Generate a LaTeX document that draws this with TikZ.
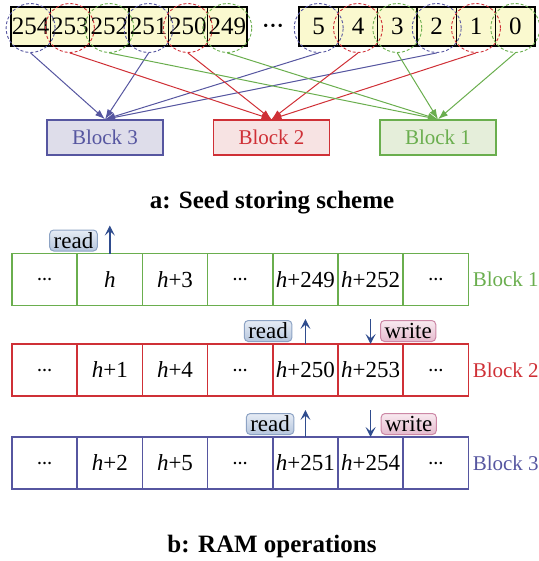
\documentclass[tikz,border=0pt]{standalone}
\usepackage{fontspec}
\setmainfont{Liberation Serif}
\usetikzlibrary{positioning,arrows.meta,calc}
\definecolor{blkblue}{HTML}{5656A0}
\definecolor{blkred}{HTML}{CF3036}
\definecolor{blkgreen}{HTML}{6AAE4E}
\definecolor{fillblue}{HTML}{DEDDEA}
\definecolor{fillred}{HTML}{F7E3E3}
\definecolor{fillgreen}{HTML}{E5EEDA}
\definecolor{seedfill}{HTML}{FAF9CF}
\definecolor{rwblue}{HTML}{2F4C8E}
\definecolor{readtop}{HTML}{E6ECF5}
\definecolor{readbot}{HTML}{B6C6DD}
\definecolor{readline}{HTML}{8DA3C4}
\definecolor{writetop}{HTML}{F8EAF0}
\definecolor{writebot}{HTML}{E5BACD}
\definecolor{writeline}{HTML}{CC88A6}
\newcommand{\hplus}[1]{\textit{h}+#1}
\newcommand{\ellip}{{\bfseries\fontsize{7.5}{7.5}\selectfont …}}

\tikzset{
  seedcell/.style={draw, line width=.7pt, fill=seedfill, minimum width=19.65pt,
    minimum height=19.5pt, inner sep=0pt, outer sep=0pt,
    font=\fontsize{12.5}{12.5}\selectfont},
  ring/.style={draw=#1, circle, minimum size=24.5pt, inner sep=0pt,
    line width=.45pt, dash pattern=on 1.5pt off 1pt},
  feed/.style={draw=#1, line width=.5pt, -{Latex[length=5pt,width=3.5pt]}},
  blockbox/.style={draw=blk#1, fill=fill#1, text=blk#1, line width=.7pt,
    minimum width=58pt, minimum height=17.5pt,
    font=\fontsize{10.5}{10.5}\selectfont},
  ramcell/.style={draw=#1, line width=.8pt, minimum width=32.6pt,
    minimum height=26pt, inner sep=0pt, outer sep=0pt,
    font=\fontsize{11.5}{11.5}\selectfont},
  ramlabel/.style={text=#1, inner sep=0pt, font=\fontsize{10.5}{10.5}\selectfont},
  readbox/.style={draw=readline, top color=readtop, bottom color=readbot,
    rounded corners=2pt, line width=.5pt, inner xsep=2pt, inner ysep=0pt,
    minimum height=10.5pt, font=\fontsize{11.5}{11.5}\selectfont},
  writebox/.style={readbox, draw=writeline, top color=writetop,
    bottom color=writebot},
  rwarrow/.style={draw=rwblue, line width=.85pt,
    -{Stealth[length=5pt,width=5pt,inset=2.2pt]}},
  title/.style={font=\fontsize{12.5}{12.5}\selectfont\bfseries}
}

\begin{document}
\begin{tikzpicture}[x=.5pt,y=-.5pt]
\useasboundingbox (0,0) rectangle (538,561);

% seeds
\node[seedcell] (c254) at (30.6,26.5) {254}; \node[seedcell] (c253) at
(69.9,26.5) {253}; \node[seedcell] (c252) at (109.3,26.5) {252};
\node[seedcell] (c251) at (148.6,26.5) {251}; \node[seedcell] (c250) at
(187.9,26.5) {250}; \node[seedcell] (c249) at (227.3,26.5) {249};
\node (dots) at (273,27) {\fontsize{7}{7}\selectfont\textbullet\,\textbullet\,\textbullet};
\node[seedcell] (c5) at (318.7,26.5) {5}; \node[seedcell] (c4) at (358,26.5)
{4}; \node[seedcell] (c3) at (397.3,26.5) {3}; \node[seedcell] (c2) at
(436.7,26.5) {2}; \node[seedcell] (c1) at (476,26.5) {1}; \node[seedcell] (c0)
at (515.3,26.5) {0};

\node[ring=blkblue] (r254) at (30.6,28) {}; \node[ring=blkred] (r253) at
(69.9,28) {}; \node[ring=blkgreen] (r252) at (109.3,28) {};
\node[ring=blkblue] (r251) at (148.6,28) {}; \node[ring=blkred] (r250) at
(187.9,28) {}; \node[ring=blkgreen] (r249) at (227.3,28) {};
\node[ring=blkblue] (r5) at (318.7,28) {}; \node[ring=blkred] (r4) at (358,28)
{}; \node[ring=blkgreen] (r3) at (397.3,28) {}; \node[ring=blkblue] (r2) at
(436.7,28) {}; \node[ring=blkred] (r1) at (476,28) {}; \node[ring=blkgreen]
(r0) at (515.3,28) {};

% blocks
\node[blockbox=blue] (b3) at (105,137.5) {Block 3};
\node[blockbox=red] (b2) at (271.5,137.5) {Block 2};
\node[blockbox=green] (b1) at (438,137.5) {Block 1};

\draw[feed=blkblue] (r254.south) -- (b3.north); \draw[feed=blkblue]
(r251.south) -- (b3.north); \draw[feed=blkblue] (r5.south) -- (b3.north);
\draw[feed=blkblue] (r2.south) -- (b3.north); \draw[feed=blkred] (r253.south)
-- (b2.north); \draw[feed=blkred] (r250.south) -- (b2.north);
\draw[feed=blkred] (r4.south) -- (b2.north); \draw[feed=blkred] (r1.south) --
(b2.north); \draw[feed=blkgreen] (r252.south) -- (b1.north);
\draw[feed=blkgreen] (r249.south) -- (b1.north); \draw[feed=blkgreen]
(r3.south) -- (b1.north); \draw[feed=blkgreen] (r0.south) -- (b1.north);

\node[title] (ta) at (272,203) {a: Seed storing scheme};

% RAM rows
\node[ramcell=blkgreen] (r1c1) at (44.6,279.5) {\ellip};
\node[ramcell=blkgreen, right=0pt of r1c1] (r1c2) {\textit{h}};
\node[ramcell=blkgreen, right=0pt of r1c2] (r1c3) {\hplus{3}};
\node[ramcell=blkgreen, right=0pt of r1c3] (r1c4) {\ellip};
\node[ramcell=blkgreen, right=0pt of r1c4] (r1c5) {\hplus{249}};
\node[ramcell=blkgreen, right=0pt of r1c5] (r1c6) {\hplus{252}};
\node[ramcell=blkgreen, right=0pt of r1c6] (r1c7) {\ellip};
\node[ramlabel=blkgreen, right=2pt of r1c7] (l1) {Block 1};

\node[ramcell=blkred] (r2c1) at (44.6,370) {\ellip};
\node[ramcell=blkred, right=0pt of r2c1] (r2c2) {\hplus{1}};
\node[ramcell=blkred, right=0pt of r2c2] (r2c3) {\hplus{4}};
\node[ramcell=blkred, right=0pt of r2c3] (r2c4) {\ellip};
\node[ramcell=blkred, right=0pt of r2c4] (r2c5) {\hplus{250}};
\node[ramcell=blkred, right=0pt of r2c5] (r2c6) {\hplus{253}};
\node[ramcell=blkred, right=0pt of r2c6] (r2c7) {\ellip};
\node[ramlabel=blkred, right=2pt of r2c7] (l2) {Block 2};

\node[ramcell=blkblue] (r3c1) at (44.6,463) {\ellip};
\node[ramcell=blkblue, right=0pt of r3c1] (r3c2) {\hplus{2}};
\node[ramcell=blkblue, right=0pt of r3c2] (r3c3) {\hplus{5}};
\node[ramcell=blkblue, right=0pt of r3c3] (r3c4) {\ellip};
\node[ramcell=blkblue, right=0pt of r3c4] (r3c5) {\hplus{251}};
\node[ramcell=blkblue, right=0pt of r3c5] (r3c6) {\hplus{254}};
\node[ramcell=blkblue, right=0pt of r3c6] (r3c7) {\ellip};
\node[ramlabel=blkblue, right=2pt of r3c7] (l3) {Block 3};

% read / write
\node[readbox, anchor=south east] (rd1) at ([xshift=-6pt,yshift=1pt]r1c2.north)
{read}; \coordinate[above=14pt of r1c2.north] (u1); \draw[rwarrow]
(r1c2.north) -- (u1);

\node[readbox, anchor=south east] (rd2) at ([xshift=-6.5pt,yshift=1pt]r2c5.north)
{read}; \coordinate[above=12.5pt of r2c5.north] (u2); \draw[rwarrow]
(r2c5.north) -- (u2); \node[writebox, anchor=south west] (wr2) at
([xshift=4.7pt,yshift=1pt]r2c6.north) {write}; \coordinate[above=12.5pt of
r2c6.north] (d2); \draw[rwarrow] (d2) -- (r2c6.north);

\node[readbox, anchor=south east] (rd3) at ([xshift=-5.5pt,yshift=1pt]r3c5.north)
{read}; \coordinate[above=13.5pt of r3c5.north] (u3); \draw[rwarrow]
(r3c5.north) -- (u3); \node[writebox, anchor=south west] (wr3) at
([xshift=5pt,yshift=1pt]r3c6.north) {write}; \coordinate[above=13.5pt of
r3c6.north] (d3); \draw[rwarrow] (d3) -- (r3c6.north);

\node[title] (tb) at (272,546) {b: RAM operations};
\end{tikzpicture}
\end{document}
